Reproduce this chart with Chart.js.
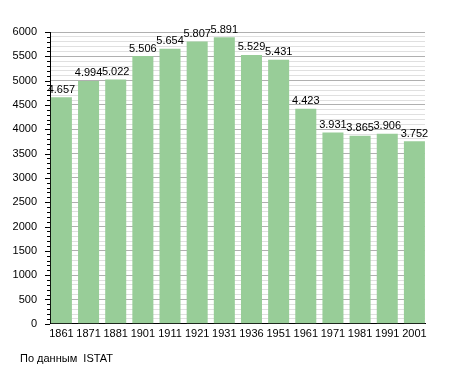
<!DOCTYPE html>
<html>
<head>
<meta charset="utf-8">
<script src="https://cdn.jsdelivr.net/npm/chart.js@4/dist/chart.umd.min.js"></script>
<style>
  body { margin: 0; background: #fff; }
  #wrap { width: 455px; height: 373px; }
</style>
</head>
<body>
<div id="wrap"><canvas id="popChart" width="455" height="373"></canvas></div>
<script>
// dati
const anni = ["1861", "1871", "1881", "1901", "1911", "1921", "1931", "1936", "1951", "1961", "1971", "1981", "1991", "2001"];
const abitanti = [4657, 4994, 5022, 5506, 5654, 5807, 5891, 5529, 5431, 4423, 3931, 3865, 3906, 3752];
const fonte = "По данным  ISTAT";

const FONT = "'Liberation Sans', Arial, sans-serif";

// etichette sopra le barre, tacche asse y e nota in basso
const valueLabels = {
  id: "valueLabels",
  afterDatasetsDraw(chart) {
    const ctx = chart.ctx;
    const meta = chart.getDatasetMeta(0);
    const y = chart.scales.y;
    const left = chart.chartArea.left;
    ctx.save();
    // tacche a sinistra dell'asse: lunghe ogni 500, corte ogni 100
    ctx.strokeStyle = "#000";
    ctx.lineWidth = 1;
    y.ticks.forEach((t) => {
      const py = Math.round(y.getPixelForValue(t.value)) + 0.5;
      const len = t.value % 500 === 0 ? 5 : 3;
      ctx.beginPath();
      ctx.moveTo(left - len, py);
      ctx.lineTo(left, py);
      ctx.stroke();
    });
    ctx.font = "11px " + FONT;
    ctx.fillStyle = "#000";
    ctx.textAlign = "center";
    ctx.textBaseline = "bottom";
    meta.data.forEach((bar, i) => {
      const v = abitanti[i];
      const txt = Math.floor(v / 1000) + "." + String(v % 1000).padStart(3, "0");
      ctx.fillText(txt, bar.x, bar.y - 2);
    });
    ctx.textAlign = "left";
    ctx.textBaseline = "alphabetic";
    ctx.fillText(fonte, 20, 362);
    ctx.restore();
  },
};

const ctx = document.getElementById("popChart").getContext("2d");
new Chart(ctx, {
  type: "bar",
  data: {
    datasets: [
      {
        data: abitanti.map((v, i) => ({ x: i, y: v })),
        backgroundColor: "#98cd98",
        borderWidth: 0,
        barPercentage: 0.774,
        categoryPercentage: 1,
      },
    ],
  },
  options: {
    responsive: false,
    animation: false,
    layout: { padding: { top: 32, right: 30, bottom: 28, left: 0 } },
    plugins: {
      legend: { display: false },
      tooltip: { enabled: false },
    },
    scales: {
      x: {
        type: "linear",
        min: -0.42,
        max: 13.39,
        offset: false,
        grid: { display: false, drawTicks: false },
        border: { color: "#000", width: 1 },
        ticks: {
          stepSize: 1,
          includeBounds: false,
          autoSkip: false,
          maxRotation: 0,
          color: "#000",
          font: { family: FONT, size: 11 },
          padding: 4,
          callback: (v) => (Number.isInteger(v) ? anni[v] : ""),
        },
      },
      y: {
        min: 0,
        max: 6000,
        afterFit: (scale) => { scale.width = 50; },
        border: { color: "#000", width: 1 },
        grid: {
          color: (c) => (c.tick && c.tick.value % 500 === 0 ? "#b0b0b0" : "#e0e0e0"),
          drawTicks: false,
        },
        ticks: {
          stepSize: 100,
          autoSkip: false,
          color: "#000",
          font: { family: FONT, size: 11 },
          padding: 13,
          callback: (v) => (v % 500 === 0 ? v : ""),
        },
      },
    },
  },
  plugins: [valueLabels],
});
</script>
</body>
</html>
